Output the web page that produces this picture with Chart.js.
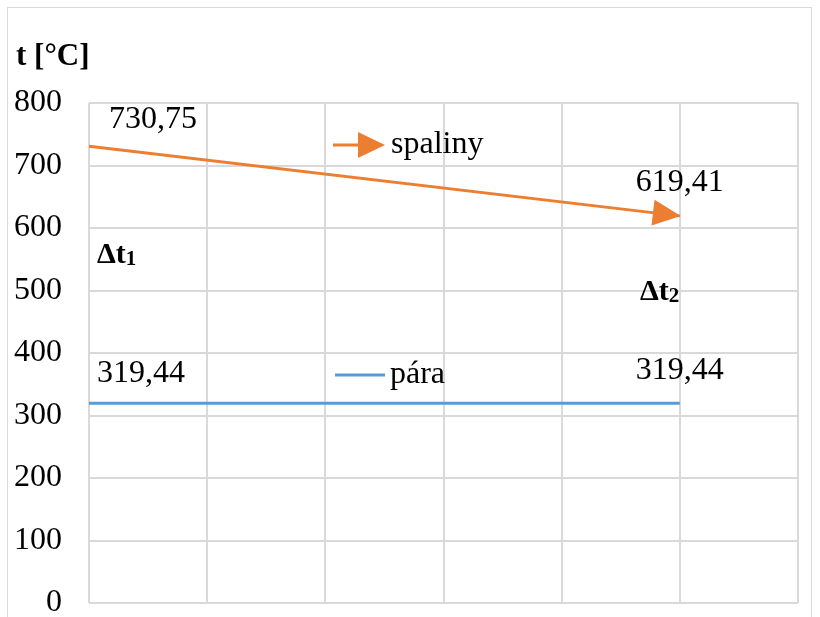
<!DOCTYPE html>
<html>
<head>
<meta charset="utf-8">
<script src="https://cdn.jsdelivr.net/npm/chart.js@4"></script>
<style>
  html, body { margin: 0; padding: 0; background: #fff; }
  #wrap { position: relative; width: 820px; height: 617px; }
  #frame { position: absolute; left: 7px; top: 7px; width: 805px; height: 620px; border: 1px solid #d9d9d9; box-sizing: border-box; }
  canvas { display: block; }
</style>
</head>
<body>
<div id="wrap">
  <div id="frame"></div>
  <canvas id="chart" width="820" height="617"></canvas>
</div>
<script>
// data
const positions = [0, 5];
const spaliny = [730.75, 619.41];
const para = [319.44, 319.44];
const yTicks = [0, 100, 200, 300, 400, 500, 600, 700, 800];

const ORANGE = '#ED7D31';
const BLUE = '#5B9BD5';
const SERIF = '"Liberation Serif", "Times New Roman", serif';

function fmt(v) {
    return v.toFixed(2).replace('.', ',');
}

function delta(ctx, sub, x, y) {
    ctx.font = 'bold 30px ' + SERIF;
    ctx.fillText('Δt', x, y);
    const w = ctx.measureText('Δt').width;
    ctx.font = 'bold 21px ' + SERIF;
    ctx.fillText(sub, x + w, y + 5);
}

// arrow head at the end of the orange line + labels and legend
const extras = {
    id: 'extras',
    afterDatasetsDraw(chart) {
        const ctx = chart.ctx;
        const m0 = chart.getDatasetMeta(0).data;
        const m1 = chart.getDatasetMeta(1).data;

        // arrow head
        const a = m0[0], b = m0[m0.length - 1];
        const ang = Math.atan2(b.y - a.y, b.x - a.x);
        ctx.save();
        ctx.translate(b.x, b.y);
        ctx.rotate(ang);
        ctx.fillStyle = ORANGE;
        ctx.beginPath();
        ctx.moveTo(1, 0);
        ctx.lineTo(-27, -13);
        ctx.lineTo(-27, 13);
        ctx.closePath();
        ctx.fill();
        ctx.restore();

        ctx.save();
        ctx.fillStyle = '#000';
        ctx.font = '32px ' + SERIF;
        ctx.textBaseline = 'middle';

        // value labels
        ctx.textAlign = 'center';
        ctx.fillText(fmt(spaliny[0]), a.x + 64, a.y - 27);
        ctx.fillText(fmt(spaliny[1]), b.x, b.y - 33);
        ctx.textAlign = 'left';
        ctx.fillText(fmt(para[0]), m1[0].x + 8, m1[0].y - 30);
        ctx.textAlign = 'center';
        ctx.fillText(fmt(para[1]), m1[1].x, m1[1].y - 33);

        // legend entries
        ctx.textAlign = 'left';
        ctx.fillText('spaliny', 391, 145);
        ctx.fillText('pára', 390, 375);
        ctx.strokeStyle = ORANGE;
        ctx.lineWidth = 3;
        ctx.beginPath();
        ctx.moveTo(333, 145);
        ctx.lineTo(362, 145);
        ctx.stroke();
        ctx.fillStyle = ORANGE;
        ctx.beginPath();
        ctx.moveTo(385, 145);
        ctx.lineTo(358, 132);
        ctx.lineTo(358, 158);
        ctx.closePath();
        ctx.fill();
        ctx.strokeStyle = BLUE;
        ctx.beginPath();
        ctx.moveTo(335, 375);
        ctx.lineTo(385, 375);
        ctx.stroke();

        // title and delta labels
        ctx.fillStyle = '#000';
        ctx.font = 'bold 31px ' + SERIF;
        ctx.fillText('t [°C]', 16, 57);
        delta(ctx, '1', 97, 255);
        delta(ctx, '2', 640, 292);
        ctx.restore();
    }
};

new Chart(document.getElementById('chart'), {
    type: 'line',
    data: {
        datasets: [{
            label: 'spaliny',
            data: positions.map((x, i) => ({ x: x, y: spaliny[i] })),
            borderColor: ORANGE,
            borderWidth: 3,
            pointRadius: 0,
            fill: false
        }, {
            label: 'pára',
            data: positions.map((x, i) => ({ x: x, y: para[i] })),
            borderColor: BLUE,
            borderWidth: 3,
            pointRadius: 0,
            fill: false
        }]
    },
    options: {
        responsive: false,
        maintainAspectRatio: false,
        animation: false,
        layout: {
            padding: { top: 103, bottom: 14, left: 0, right: 22 }
        },
        plugins: {
            legend: { display: false },
            tooltip: { enabled: false }
        },
        scales: {
            x: {
                type: 'linear',
                min: 0,
                max: 6,
                afterFit: s => { s.height = 0; s.paddingLeft = 0; s.paddingRight = 0; },
                ticks: { display: false, stepSize: 1 },
                grid: { color: '#d9d9d9', lineWidth: 2, drawTicks: false },
                border: { display: false }
            },
            y: {
                min: 0,
                max: 800,
                afterBuildTicks: s => { s.ticks = yTicks.map(v => ({ value: v })); },
                afterFit: s => { s.width = 89; s.paddingTop = 0; s.paddingBottom = 0; },
                ticks: {
                    color: '#000',
                    font: { family: SERIF, size: 32 },
                    padding: 27
                },
                grid: { color: '#d9d9d9', lineWidth: 2, drawTicks: false },
                border: { display: false }
            }
        }
    },
    plugins: [extras]
});
</script>
</body>
</html>
